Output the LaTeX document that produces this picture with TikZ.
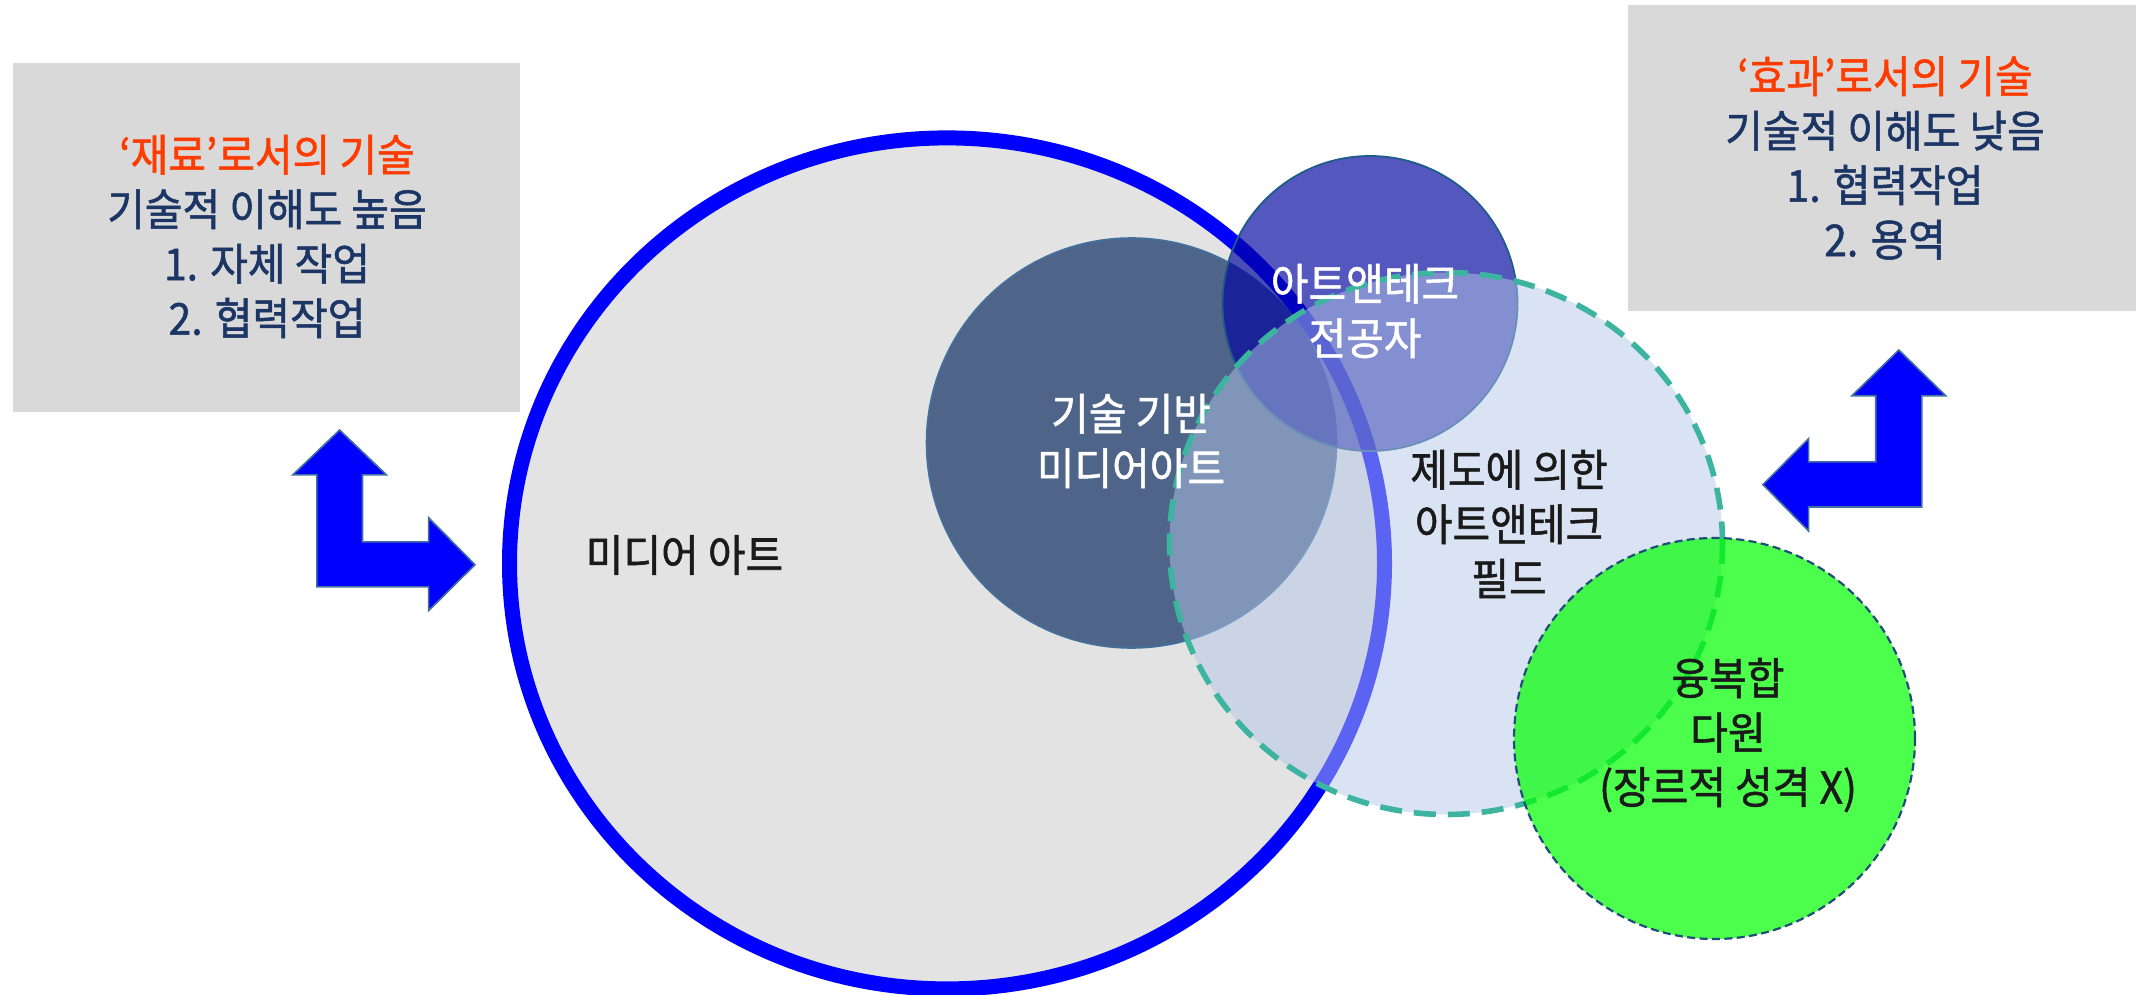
\documentclass[tikz,border=0pt]{standalone}
\usepackage{fontspec}
\setmainfont{Noto Sans CJK KR}
\newfontfamily\kfont{Noto Sans CJK KR}[FakeStretch=0.93,FakeBold=1.2]
\definecolor{boxgray}{HTML}{D9D9D9}
\definecolor{maingray}{HTML}{E3E3E3}
\definecolor{ringblue}{HTML}{0000FF}
\definecolor{slate}{HTML}{4F6489}
\definecolor{slateedge}{HTML}{41719C}
\definecolor{violetc}{HTML}{00049E}
\definecolor{violetedge}{HTML}{1F5C8A}
\definecolor{fieldblue}{HTML}{B4C7E7}
\definecolor{tealline}{HTML}{3CB4A0}
\definecolor{limec}{HTML}{00FF00}
\definecolor{limeedge}{HTML}{1F4E79}
\definecolor{navytext}{HTML}{1B3565}
\definecolor{accent}{HTML}{FF3C00}
\definecolor{inktext}{HTML}{1A1A1A}
\definecolor{arrowedge}{HTML}{41719C}
\begin{document}
\begin{tikzpicture}[x=0.5pt,y=-0.5pt,
  txt/.style={font=\kfont\fontsize{22pt}{27.25pt}\selectfont, align=center, inner sep=0pt},
  graybox/.style={fill=boxgray, draw=none, inner sep=0pt},
  boxtext/.style={txt, text=navytext},
  darktext/.style={txt, text=inktext},
  lighttext/.style={txt, text=white},
  blockarrow/.style={fill=ringblue, draw=arrowedge, line width=0.8pt, line join=miter}]
\useasboundingbox (0,0) rectangle (2136,995);

% gray boxes
\node[graybox, minimum width=253.5pt, minimum height=174.3pt] (lbox) at (266.5,237.3) {};
\node[graybox, minimum width=254.25pt, minimum height=153pt] (rbox) at (1881.75,158) {};
\node[boxtext] (ltext) at (267,236.5) {\textcolor{accent}{‘재료’로서의 기술}\\기술적 이해도 높음\\1. 자체 작업\\2. 협력작업};
\node[boxtext] (rtext) at (1885,158) {\textcolor{accent}{‘효과’로서의 기술}\\기술적 이해도 낮음\\1. 협력작업\\2. 용역};

% bent double arrows
\draw[blockarrow] (339.6,430) -- (386.4,474.8) -- (362.5,474.8) -- (362.5,541.8) -- (428.6,541.8) -- (428.6,517.7) -- (475,564.7) -- (428.6,610.7) -- (428.6,586.9) -- (316.8,586.9) -- (316.8,474.8) -- (292.9,474.8) -- cycle;
\draw[blockarrow] (1898.8,350) -- (1945.7,395.7) -- (1921.8,395.7) -- (1921.8,507) -- (1808.6,507) -- (1808.6,531) -- (1762.9,484.6) -- (1808.6,438.6) -- (1808.6,461.8) -- (1875.7,461.8) -- (1875.7,395.7) -- (1852,395.7) -- cycle;

% circles
\draw[line width=7.5pt, draw=ringblue, fill=maingray] (947,563.4) ellipse [x radius=218.75pt, y radius=212.75pt];
\draw[fill=slate, draw=slateedge, line width=0.8pt] (1131.5,443) circle [radius=102.5pt];
\draw[fill=violetc, fill opacity=0.67, draw=violetedge, line width=0.9pt] (1370,303.5) circle [radius=73.75pt];
\draw[fill=fieldblue, fill opacity=0.5, draw=tealline, line width=2.8pt, dash pattern=on 11pt off 6pt] (1446,543.5) ellipse [x radius=138.25pt, y radius=135.5pt];
\draw[fill=limec, fill opacity=0.7, draw=limeedge, line width=1.1pt, dash pattern=on 4pt off 2.2pt] (1714.5,738.5) circle [radius=100.25pt];

% labels
\node[darktext] (media) at (684.5,555) {미디어 아트};
\node[lighttext] (techbased) at (1131,441) {기술 기반\\미디어아트};
\node[lighttext] (major) at (1365,311) {아트앤테크\\전공자};
\node[darktext] (field) at (1509,524) {제도에 의한\\아트앤테크\\필드};
\node[darktext] (multi) at (1728,735) {융복합\\다원\\(장르적 성격 X)};
\end{tikzpicture}
\end{document}
